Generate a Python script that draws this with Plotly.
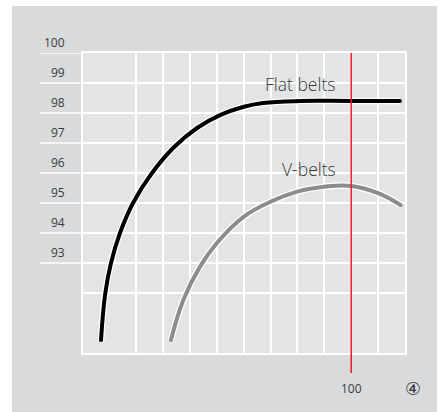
import plotly.graph_objects as go

# ---- data ----
flat_x = [6.99, 8.6, 10.71, 14.05, 18.89, 25.95, 34.0, 42.7, 51.23, 59.78, 67.21, 81.0, 99.6, 118.1]
flat_y = [90.43, 92.0, 93.0, 94.0, 95.0, 96.0, 96.85, 97.5, 97.93, 98.2, 98.33, 98.4, 98.4, 98.4]
v_x = [33.0, 37.6, 43.8, 50.0, 60.0, 70.0, 80.0, 90.0, 100.0, 110.0, 118.4]
v_y = [90.43, 91.77, 92.88, 93.66, 94.54, 95.04, 95.38, 95.54, 95.57, 95.33, 94.93]
y_labels = [93, 94, 95, 96, 97, 98, 99, 100]
y_grid = [92, 93, 94, 95, 96, 97, 98, 99, 100]
x_grid = [20, 30, 40, 50, 60, 70, 80, 90, 100, 110, 120]
marker_x = 100
series_names = ["Flat belts", "V-belts"]

FONT = "Open Sans"
TXT = "#3a3a3a"
W, H = 441, 412
L, R, T, B = 83, 36, 53, 59
pw, ph = W - L - R, H - T - B
YMIN, YMAX = 90, 100

def px_x(p):
    return (p - L) / pw

def px_y(p):
    return (H - B - p) / ph

fig = go.Figure()

# curves with white halo
for xs, ys, col in [(flat_x, flat_y, "#000000"), (v_x, v_y, "#8c8c8c")]:
    fig.add_trace(go.Scatter(x=xs, y=ys, mode="lines", hoverinfo="skip",
                             line=dict(color="white", width=6.5, shape="spline", smoothing=1.2),
                             showlegend=False))
    fig.add_trace(go.Scatter(x=xs, y=ys, mode="lines",
                             line=dict(color=col, width=4, shape="spline", smoothing=1.2),
                             showlegend=False))
    fig.add_trace(go.Scatter(x=[xs[0], xs[-1]], y=[ys[0], ys[-1]], mode="markers",
                             marker=dict(color=col, size=4, line=dict(width=0)),
                             hoverinfo="skip", showlegend=False))

shapes = [
    # outer grey panel
    dict(type="rect", xref="paper", yref="paper", x0=px_x(12), x1=px_x(437),
         y0=px_y(412), y1=px_y(6), fillcolor="#d9dadc", line=dict(width=0), layer="below"),
    # plot area
    dict(type="rect", xref="paper", yref="paper", x0=0, x1=1, y0=0, y1=1,
         fillcolor="#e3e4e5", line=dict(width=0), layer="below"),
]
# gridline extensions into left label area
for v in y_labels:
    shapes.append(dict(type="line", xref="paper", yref="y", x0=px_x(40), x1=0, y0=v, y1=v,
                       line=dict(color="white", width=1.5), layer="below"))
# red marker line
shapes.append(dict(type="line", xref="x", yref="paper", x0=marker_x, x1=marker_x,
                   y0=px_y(373), y1=1, line=dict(color="#e8192c", width=1.5), layer="above"))

annotations = []
for v in y_labels:
    annotations.append(dict(x=px_x(67), xref="paper", y=(v + 0.34 - YMIN) / (YMAX - YMIN),
                            yref="paper", text=str(v),
                            showarrow=False, xanchor="right", yanchor="middle",
                            font=dict(family=FONT, size=12, color=TXT)))
annotations.append(dict(x=marker_x, xref="x", y=px_y(388), yref="paper", text=str(marker_x),
                        showarrow=False, xanchor="center", yanchor="middle",
                        font=dict(family=FONT, size=12, color=TXT)))
annotations.append(dict(x=px_x(413), xref="paper", y=px_y(388), yref="paper", text="④",
                        showarrow=False, xanchor="center", yanchor="middle",
                        font=dict(family="DejaVu Sans", size=18, color=TXT)))
annotations.append(dict(x=81, y=98.97, xref="x", yref="y", text=series_names[0], showarrow=False,
                        font=dict(family=FONT, size=17.5, color=TXT, weight=300)))
annotations.append(dict(x=84.3, y=96.13, xref="x", yref="y", text=series_names[1], showarrow=False,
                        font=dict(family=FONT, size=17.5, color=TXT, weight=300)))

fig.update_layout(
    width=W, height=H,
    margin=dict(l=L, r=R, t=T, b=B),
    paper_bgcolor="white",
    plot_bgcolor="rgba(0,0,0,0)",
    shapes=shapes,
    annotations=annotations,
    xaxis=dict(range=[0.3, 120], tickvals=x_grid, showticklabels=False, ticks="",
               showgrid=True, gridcolor="white", gridwidth=1.5, zeroline=False,
               showline=True, linecolor="white", linewidth=1.5, mirror=True, fixedrange=True),
    yaxis=dict(range=[YMIN, YMAX], tickvals=y_grid, showticklabels=False, ticks="",
               showgrid=True, gridcolor="white", gridwidth=1.5, zeroline=False,
               showline=True, linecolor="white", linewidth=1.5, mirror=True, fixedrange=True),
    showlegend=False,
)

fig.write_html("out.html", config={"displayModeBar": False},
               post_script="document.body.style.margin='0';document.body.style.padding='0';")
